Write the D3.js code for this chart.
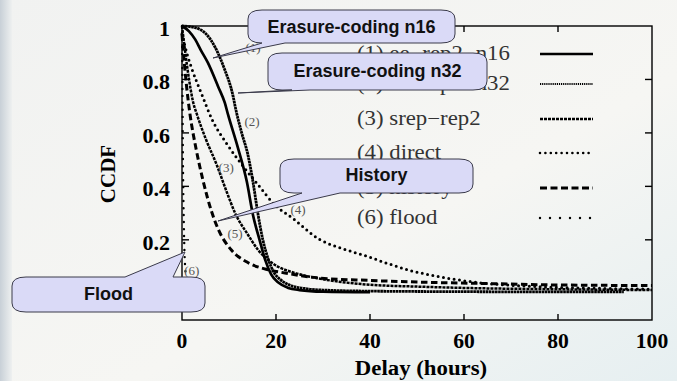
<!DOCTYPE html>
<html>
<head>
<meta charset="utf-8">
<script src="https://cdn.jsdelivr.net/npm/d3@7"></script>
<style>
  html, body { margin: 0; padding: 0; background: #f4f4f2; }
  svg { display: block; }
</style>
</head>
<body>
<div id="viz"></div>
<script>
// --- values ---
const xTicks = [0, 20, 40, 60, 80, 100];
const yTicks = [0.2, 0.4, 0.6, 0.8, 1];
const legendLabels = [
  '(1) ee\u2212rep2\u2212n16',
  '(2) ee\u2212rep2\u2212n32',
  '(3) srep\u2212rep2',
  '(4) direct',
  '(5) history',
  '(6) flood'
];
const curveTags = ['(1)', '(2)', '(3)', '(4)', '(5)', '(6)'];
const calloutTexts = ['Erasure-coding n16', 'Erasure-coding n32', 'History', 'Flood'];

const n16Hours = [0, 1.5, 2.8, 4, 5.5, 7.7, 9.1, 9.8, 11.9, 13.8, 15.1, 16.5, 17.7, 19, 20.5, 22.6, 25, 30, 40];
const n16Ccdf  = [1, 0.98, 0.95, 0.91, 0.863, 0.773, 0.713, 0.668, 0.544, 0.417, 0.293, 0.2, 0.125, 0.07, 0.04, 0.02, 0.012, 0.006, 0.004];

const n32Hours = [0, 2.8, 5.3, 7, 9.1, 10.9, 11.3, 12.7, 14, 15.1, 16.2, 17.2, 18.3, 19.5, 21, 23, 26, 30, 40, 60, 80, 94];
const n32Ccdf  = [1, 0.994, 0.967, 0.922, 0.836, 0.735, 0.7, 0.6, 0.52, 0.417, 0.293, 0.2, 0.13, 0.08, 0.05, 0.03, 0.018, 0.012, 0.008, 0.006, 0.005, 0.005];

const srepHours = [0, 0.7, 1.5, 2.3, 3.2, 5, 7.4, 9.5, 11.3, 14, 16.2, 19.8, 24, 28.3, 34, 40, 50, 60, 80, 100];
const srepCcdf  = [1, 0.9, 0.8, 0.72, 0.668, 0.58, 0.48, 0.38, 0.3, 0.22, 0.162, 0.106, 0.076, 0.058, 0.042, 0.032, 0.025, 0.02, 0.015, 0.012];

const directHours = [0, 1, 2.1, 4.3, 6.4, 9.5, 12.8, 16, 19.8, 23.6, 29.4, 34, 39.4, 44, 48.5, 53, 57, 63, 70, 80, 90, 100];
const directCcdf  = [0.97, 0.9, 0.84, 0.74, 0.65, 0.56, 0.48, 0.41, 0.33, 0.28, 0.2, 0.168, 0.138, 0.11, 0.085, 0.068, 0.055, 0.04, 0.03, 0.022, 0.018, 0.015];

const historyHours = [0, 0.5, 1, 1.7, 3, 4.5, 6.4, 7.7, 10.6, 14, 18.3, 21.9, 28.7, 40, 50, 63.4, 80, 100];
const historyCcdf  = [0.97, 0.86, 0.77, 0.67, 0.54, 0.42, 0.3, 0.24, 0.16, 0.115, 0.088, 0.076, 0.058, 0.048, 0.042, 0.037, 0.031, 0.029];

const floodHours = [0, 0.1, 0.2, 0.4, 0.7, 1.2, 2];
const floodCcdf  = [1, 0.75, 0.5, 0.25, 0.09, 0.03, 0.01];

// --- layout ---
const W = 677, H = 381;
const x = d3.scaleLinear().domain([0, 100]).range([182, 652]);
const y = d3.scaleLinear().domain([-0.1, 1]).range([320, 26]);

const serif = "'Liberation Serif', 'Times New Roman', serif";
const sans = "'Liberation Sans', Arial, sans-serif";

const series = [
  { hours: n16Hours, ccdf: n16Ccdf },
  { hours: n32Hours, ccdf: n32Ccdf },
  { hours: srepHours, ccdf: srepCcdf },
  { hours: directHours, ccdf: directCcdf },
  { hours: historyHours, ccdf: historyCcdf },
  { hours: floodHours, ccdf: floodCcdf }
];
// line styles per series
const styles = [
  { w: 2.7, dash: null, cap: 'butt' },
  { w: 2.8, dash: '2.6,0.5', cap: 'butt' },
  { w: 2.5, dash: '3,1', cap: 'butt' },
  { w: 3.0, dash: '0,5.4', cap: 'round' },
  { w: 3.0, dash: '6.5,3.5', cap: 'butt' },
  { w: 2.4, dash: '0,7', cap: 'round' }
];
const legendDash = [null, '1.2,0.9', '3,1', '0,5.4', '7,3.5', '0,10'];
const legendWidth = [2.7, 1.8, 2.5, 2.6, 3.0, 2.4];
// tag positions in data units
const tagAt = [[15.1, 0.918], [14.9, 0.644], [9.4, 0.472], [24.7, 0.312], [11.3, 0.225], [2.1, 0.087]];
const legendRowY = [54, 84, 119, 153, 188, 218];

const svg = d3.select('#viz').append('svg')
  .attr('width', W).attr('height', H);

// slide background
const defs = svg.append('defs');
const bg = defs.append('linearGradient').attr('id', 'bg').attr('x1', 0).attr('x2', 1).attr('y1', 0).attr('y2', 1);
bg.append('stop').attr('offset', '0%').attr('stop-color', '#f1f2f1');
bg.append('stop').attr('offset', '60%').attr('stop-color', '#f6f6f3');
bg.append('stop').attr('offset', '100%').attr('stop-color', '#e6eff1');
const strip = defs.append('linearGradient').attr('id', 'strip');
strip.append('stop').attr('offset', '0%').attr('stop-color', '#c8d0d7');
strip.append('stop').attr('offset', '100%').attr('stop-color', '#eef0f0');
svg.append('rect').attr('width', W).attr('height', H).attr('fill', 'url(#bg)');
svg.append('rect').attr('width', 12).attr('height', H).attr('fill', 'url(#strip)');

// text helper: the slide was stretched sideways a little
const label = (g, px, py, str, font, anchor, sx) => g.append('text')
  .attr('transform', `translate(${px},${py}) scale(${sx || 1},1)`)
  .attr('text-anchor', anchor || 'start')
  .style('font', font)
  .text(str);

// --- frame and ticks ---
const [x0, x1] = x.range();
const [y0, y1] = y.range();
svg.append('rect')
  .attr('x', x0).attr('y', y1).attr('width', x1 - x0).attr('height', y0 - y1)
  .attr('fill', 'none').attr('stroke', '#000').attr('stroke-width', 1.4);

const ticks = svg.append('g').attr('stroke', '#000').attr('stroke-width', 1.4);
xTicks.slice(1, -1).forEach(t => {
  ticks.append('line').attr('x1', x(t)).attr('x2', x(t)).attr('y1', y0).attr('y2', y0 - 6);
  ticks.append('line').attr('x1', x(t)).attr('x2', x(t)).attr('y1', y1).attr('y2', y1 + 6);
});
yTicks.slice(0, -1).forEach(t => {
  ticks.append('line').attr('x1', x0).attr('x2', x0 + 7).attr('y1', y(t)).attr('y2', y(t));
  ticks.append('line').attr('x1', x1).attr('x2', x1 - 7).attr('y1', y(t)).attr('y2', y(t));
});

const axisText = svg.append('g').attr('fill', '#000');
xTicks.forEach(t => label(axisText, x(t), 348, t, `bold 20px ${serif}`, 'middle', 1.08));
yTicks.forEach(t => label(axisText, 170, y(t) + 10, t, `bold 20px ${serif}`, 'end', 1.1));
label(axisText, 421, 375, 'Delay (hours)', `bold 20px ${serif}`, 'middle', 1.14);

svg.append('text')
  .attr('transform', 'translate(115,174) rotate(-90)')
  .attr('text-anchor', 'middle')
  .style('font', `bold 21px ${serif}`)
  .text('CCDF');

// --- curves ---
const line = d3.line()
  .x(d => x(d[0]))
  .y(d => y(d[1]))
  .curve(d3.curveMonotoneX);

const curves = svg.append('g').attr('fill', 'none').attr('stroke', '#000');
series.forEach((s, i) => {
  const pts = s.hours.map((h, k) => [h, s.ccdf[k]]);
  curves.append('path')
    .attr('d', line(pts))
    .attr('stroke-width', styles[i].w)
    .attr('stroke-dasharray', styles[i].dash)
    .attr('stroke-linecap', styles[i].cap);
});

svg.append('g').selectAll('text').data(curveTags).enter().append('text')
  .attr('x', (d, i) => x(tagAt[i][0]))
  .attr('y', (d, i) => y(tagAt[i][1]))
  .attr('dy', '0.35em')
  .attr('text-anchor', 'middle')
  .attr('fill', '#555')
  .style('font', `13px ${serif}`)
  .text(d => d);

// --- legend ---
const legend = svg.append('g').attr('fill', '#333');
legendLabels.forEach((lab, i) => {
  label(legend, 357, legendRowY[i] + 6, lab, `20px ${serif}`, 'start', 1.14);
  legend.append('line')
    .attr('x1', 540).attr('x2', 593)
    .attr('y1', legendRowY[i]).attr('y2', legendRowY[i])
    .attr('stroke', '#000')
    .attr('stroke-width', legendWidth[i])
    .attr('stroke-dasharray', legendDash[i])
    .attr('stroke-linecap', styles[i].cap);
});

// --- callouts (boxes in pixels, wedge tip + base) ---
const callouts = [
  { box: [248, 10, 455, 43], side: 'bottom', base: [262, 285], tip: [213, 58], ty: 33 },
  { box: [268, 53, 487, 90], side: 'bottom', base: [292, 310], tip: [238, 93], ty: 77 },
  { box: [280, 159, 473, 193], side: 'bottom', base: [302, 340], tip: [218, 221], ty: 181 },
  { box: [12, 277, 205, 312], side: 'top', base: [125, 173], tip: [185, 252], ty: 300 }
];

const calloutPath = c => {
  const [bx0, by0, bx1, by1] = c.box;
  const rx = 14, ry = 9;
  const p = d3.path();
  p.moveTo(bx0 + rx, by0);
  if (c.side === 'top') {
    p.lineTo(c.base[0], by0);
    p.lineTo(c.tip[0], c.tip[1]);
    p.lineTo(c.base[1], by0);
  }
  p.lineTo(bx1 - rx, by0);
  p.quadraticCurveTo(bx1, by0, bx1, by0 + ry);
  p.lineTo(bx1, by1 - ry);
  p.quadraticCurveTo(bx1, by1, bx1 - rx, by1);
  if (c.side === 'bottom') {
    p.lineTo(c.base[1], by1);
    p.lineTo(c.tip[0], c.tip[1]);
    p.lineTo(c.base[0], by1);
  }
  p.lineTo(bx0 + rx, by1);
  p.quadraticCurveTo(bx0, by1, bx0, by1 - ry);
  p.lineTo(bx0, by0 + ry);
  p.quadraticCurveTo(bx0, by0, bx0 + rx, by0);
  p.closePath();
  return p.toString();
};

const co = svg.append('g');
callouts.forEach((c, i) => {
  co.append('path')
    .attr('d', calloutPath(c))
    .attr('fill', '#dadaf7')
    .attr('stroke', '#3a3a4a')
    .attr('stroke-width', 1);
  co.append('text')
    .attr('x', (c.box[0] + c.box[2]) / 2)
    .attr('y', c.ty)
    .attr('text-anchor', 'middle')
    .attr('fill', '#111')
    .style('font', `bold 18px ${sans}`)
    .text(calloutTexts[i]);
});
</script>
</body>
</html>
